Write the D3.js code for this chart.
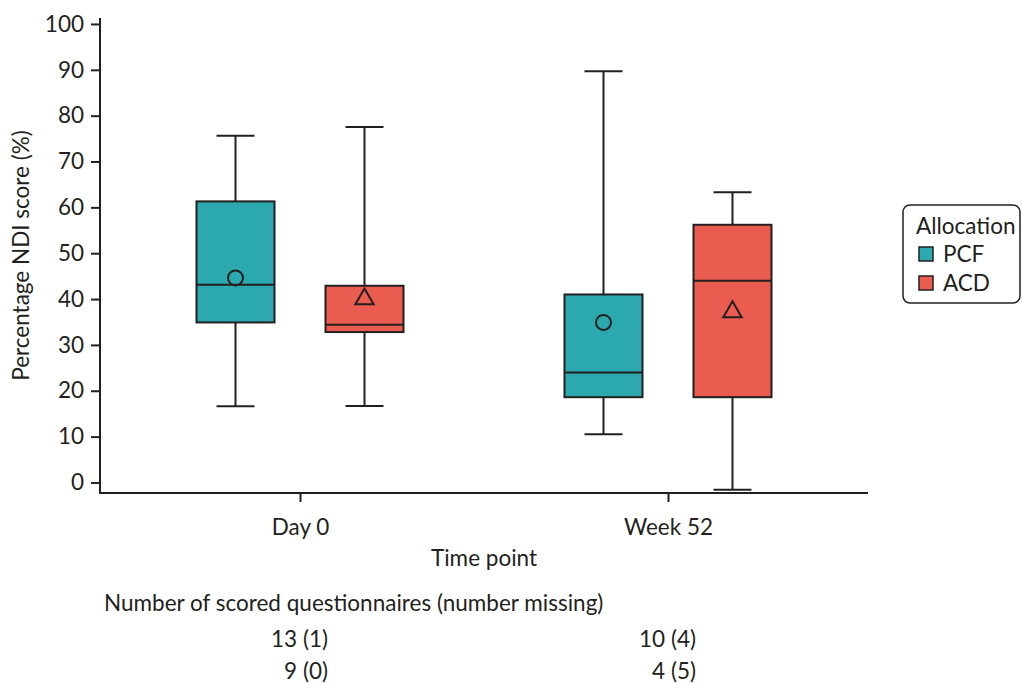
<!DOCTYPE html>
<html>
<head>
<meta charset="utf-8">
<script src="https://cdn.jsdelivr.net/npm/d3@7"></script>
<style>
  body { margin: 0; background: #fff; }
  text { font-family: Lato, "Open Sans", sans-serif; fill: #231f20; }
</style>
</head>
<body>
<svg width="1022" height="684"></svg>
<script>
// data
var timePoints = ["Day 0", "Week 52"];
var allocations = ["PCF", "ACD"];
var colours = ["#2ba9ae", "#ea5c4f"];

var whiskerLow  = { PCF: [16.6, 10.5], ACD: [16.7, -1.6] };
var q1          = { PCF: [34.9, 18.6], ACD: [32.8, 18.6] };
var median      = { PCF: [43.1, 24.0], ACD: [34.4, 44.0] };
var q3          = { PCF: [61.3, 41.0], ACD: [42.9, 56.2] };
var whiskerHigh = { PCF: [75.6, 89.7], ACD: [77.5, 63.3] };
var mean        = { PCF: [44.6, 34.9], ACD: [40.0, 37.2] };

var counts = { PCF: ["13 (1)", "10 (4)"], ACD: ["9 (0)", "4 (5)"] };
var yTicks = [0, 10, 20, 30, 40, 50, 60, 70, 80, 90, 100];

var svg = d3.select("svg"),
    ink = "#231f20",
    fs = 22.5,
    plotL = 100, plotR = 868, plotT = 18, plotB = 493,
    boxW = 78, capW = 38;

var x = d3.scalePoint().domain(timePoints).range([plotL, plotR]).padding(0.5435);
var off = d3.scalePoint().domain(allocations).range([-64.5, 64.5]);
var y = d3.scaleLinear().domain([-2.3, 101.3]).range([plotB, plotT]);
var colour = d3.scaleOrdinal().domain(allocations).range(colours);

// axes
var yAxis = svg.append("g")
    .attr("transform", "translate(" + plotL + ",0)")
    .call(d3.axisLeft(y).tickValues(yTicks).tickSize(9).tickPadding(7).tickSizeOuter(0));
var xAxis = svg.append("g")
    .attr("transform", "translate(0," + plotB + ")")
    .call(d3.axisBottom(x).tickSize(9).tickPadding(17).tickSizeOuter(0));

[yAxis, xAxis].forEach(function(a) {
  a.select(".domain").attr("stroke", ink).attr("stroke-width", 2);
  a.selectAll(".tick line").attr("stroke", ink).attr("stroke-width", 2);
  a.selectAll(".tick text").attr("font-size", fs).attr("fill", ink)
    .style("font-family", "Lato, sans-serif");
});
// the y axis domain joins the x axis at the corner
yAxis.select(".domain").attr("d", "M0," + plotT + "V" + plotB);
xAxis.select(".domain").attr("d", "M" + (plotL - 1) + ",0H" + plotR);

svg.append("text")
    .attr("transform", "translate(29," + ((plotT + plotB) / 2) + ") rotate(-90)")
    .attr("text-anchor", "middle")
    .attr("font-size", fs)
    .text("Percentage NDI score (%)");

svg.append("text")
    .attr("x", 484).attr("y", 566)
    .attr("text-anchor", "middle")
    .attr("font-size", fs)
    .text("Time point");

// boxes
allocations.forEach(function(a) {
  timePoints.forEach(function(t, i) {
    var cx = x(t) + off(a);
    var g = svg.append("g");

    g.append("line")
        .attr("x1", cx).attr("x2", cx)
        .attr("y1", y(whiskerHigh[a][i])).attr("y2", y(whiskerLow[a][i]))
        .attr("stroke", ink).attr("stroke-width", 2);
    [whiskerHigh[a][i], whiskerLow[a][i]].forEach(function(v) {
      g.append("line")
          .attr("x1", cx - capW / 2).attr("x2", cx + capW / 2)
          .attr("y1", y(v)).attr("y2", y(v))
          .attr("stroke", ink).attr("stroke-width", 2);
    });

    g.append("rect")
        .attr("x", cx - boxW / 2)
        .attr("y", y(q3[a][i]))
        .attr("width", boxW)
        .attr("height", y(q1[a][i]) - y(q3[a][i]))
        .attr("fill", colour(a))
        .attr("stroke", ink).attr("stroke-width", 2);

    g.append("line")
        .attr("x1", cx - boxW / 2).attr("x2", cx + boxW / 2)
        .attr("y1", y(median[a][i])).attr("y2", y(median[a][i]))
        .attr("stroke", ink).attr("stroke-width", 2);

    var my = y(mean[a][i]);
    if (a === "PCF") {
      g.append("circle")
          .attr("cx", cx).attr("cy", my).attr("r", 7.5)
          .attr("fill", "none").attr("stroke", ink).attr("stroke-width", 2);
    } else {
      g.append("path")
          .attr("d", d3.symbol().type(d3.symbolTriangle).size(145))
          .attr("transform", "translate(" + cx + "," + my + ")")
          .attr("fill", "none").attr("stroke", ink).attr("stroke-width", 2);
    }
  });
});

// legend
var lg = svg.append("g").attr("transform", "translate(903,205)");
lg.append("rect")
    .attr("x", 0).attr("y", 0).attr("width", 117).attr("height", 98)
    .attr("rx", 7)
    .attr("fill", "#fff").attr("stroke", ink).attr("stroke-width", 1.5);
lg.append("text").attr("x", 13).attr("y", 29).attr("font-size", fs).text("Allocation");
allocations.forEach(function(a, i) {
  var row = lg.append("g").attr("transform", "translate(16," + (42 + i * 29) + ")");
  row.append("rect").attr("width", 14).attr("height", 14)
      .attr("fill", colour(a)).attr("stroke", ink).attr("stroke-width", 1.5);
  row.append("text").attr("x", 24).attr("y", 15).attr("font-size", fs).text(a);
});

// counts table
svg.append("text")
    .attr("x", 104).attr("y", 611)
    .attr("font-size", fs)
    .text("Number of scored questionnaires (number missing)");
allocations.forEach(function(a, j) {
  timePoints.forEach(function(t, i) {
    svg.append("text")
        .attr("x", x(t) + 28)
        .attr("y", 647 + j * 32)
        .attr("text-anchor", "end")
        .attr("font-size", fs)
        .text(counts[a][i]);
  });
});
</script>
</body>
</html>
